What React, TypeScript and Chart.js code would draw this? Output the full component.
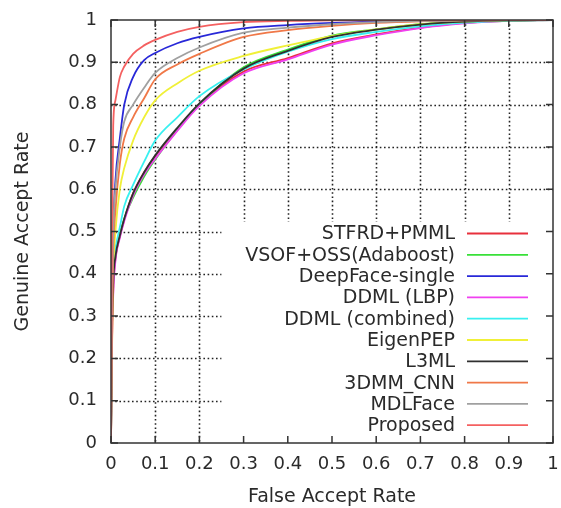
import React, { useEffect, useRef } from 'react';
import { Chart, registerables } from 'chart.js';

Chart.register(...registerables);

// False accept rate sample points shared by all curves
const FAR = [0, 0.002, 0.005, 0.01, 0.02, 0.03, 0.05, 0.075, 0.1, 0.15, 0.2, 0.3, 0.4, 0.5, 0.6, 0.7, 0.8, 0.9, 1];

const STFRD_PMML = [0, 0.22, 0.36, 0.435, 0.488, 0.528, 0.59, 0.64, 0.678, 0.742, 0.8, 0.878, 0.91, 0.945, 0.966, 0.982, 0.993, 0.998, 1];
const VSOF_OSS = [0, 0.24, 0.37, 0.44, 0.49, 0.53, 0.58, 0.63, 0.67, 0.74, 0.8, 0.888, 0.93, 0.963, 0.978, 0.99, 0.996, 0.999, 1];
const DEEPFACE = [0, 0.3, 0.5, 0.62, 0.72, 0.8, 0.865, 0.905, 0.922, 0.945, 0.96, 0.98, 0.988, 0.993, 0.996, 0.998, 0.999, 1, 1];
const DDML_LBP = [0, 0.21, 0.35, 0.43, 0.485, 0.525, 0.585, 0.635, 0.672, 0.738, 0.797, 0.874, 0.907, 0.942, 0.964, 0.981, 0.992, 0.998, 1];
const DDML_COMBINED = [0, 0.3, 0.42, 0.46, 0.51, 0.56, 0.61, 0.665, 0.715, 0.77, 0.82, 0.883, 0.925, 0.955, 0.972, 0.985, 0.994, 0.998, 1];
const EIGENPEP = [0, 0.2, 0.4, 0.5, 0.6, 0.65, 0.715, 0.77, 0.81, 0.85, 0.88, 0.915, 0.94, 0.962, 0.978, 0.99, 0.996, 0.999, 1];
const L3ML = [0, 0.25, 0.38, 0.44, 0.49, 0.53, 0.59, 0.64, 0.68, 0.745, 0.803, 0.885, 0.927, 0.96, 0.977, 0.989, 0.996, 0.999, 1];
const DMM_CNN = [0, 0.25, 0.45, 0.55, 0.66, 0.72, 0.77, 0.815, 0.86, 0.895, 0.92, 0.96, 0.976, 0.986, 0.993, 0.997, 0.999, 1, 1];
const MDLFACE = [0, 0.3, 0.5, 0.6, 0.7, 0.76, 0.8, 0.84, 0.875, 0.91, 0.935, 0.97, 0.982, 0.99, 0.995, 0.998, 0.999, 1, 1];
const PROPOSED = [0, 0.45, 0.75, 0.81, 0.865, 0.89, 0.92, 0.94, 0.953, 0.972, 0.984, 0.995, 0.998, 0.999, 1, 1, 1, 1, 1];

const SERIES_NAMES = ['STFRD+PMML', 'VSOF+OSS(Adaboost)', 'DeepFace-single', 'DDML (LBP)', 'DDML (combined)', 'EigenPEP', 'L3ML', '3DMM_CNN', 'MDLFace', 'Proposed'];
const SERIES_VALUES = [STFRD_PMML, VSOF_OSS, DEEPFACE, DDML_LBP, DDML_COMBINED, EIGENPEP, L3ML, DMM_CNN, MDLFACE, PROPOSED];
const SERIES_COLORS = ['#e8303c', '#38e038', '#2828d8', '#f040f0', '#38f0f0', '#f0f038', '#303030', '#f07848', '#a0a0a0', '#f46060'];

const TICKS = [0, 0.1, 0.2, 0.3, 0.4, 0.5, 0.6, 0.7, 0.8, 0.9, 1];

const X_TITLE = 'False Accept Rate';
const Y_TITLE = 'Genuine Accept Rate';

// key box (in data units): grid is not drawn under it
const KEY_LEFT = 0.25;
const KEY_TOP = 0.523;

const FONT = 'DejaVu Sans';
const INK = '#2a2a2a';

const framePlugin = {
  id: 'gnuplotFrame',
  beforeDatasetsDraw(chart: any) {
    const { ctx, chartArea: a, scales } = chart;
    const x = scales.x, y = scales.y;
    const bl = x.getPixelForValue(KEY_LEFT);
    const bt = y.getPixelForValue(KEY_TOP);
    ctx.save();
    ctx.beginPath();
    ctx.rect(a.left, a.top, a.right - a.left, a.bottom - a.top);
    ctx.rect(bl, bt, a.right - bl, a.bottom - bt);
    ctx.clip('evenodd');
    ctx.strokeStyle = '#222';
    ctx.lineWidth = 1.6;
    ctx.setLineDash([1.6, 2.6]);
    TICKS.forEach((t) => {
      if (t === 0 || t === 1) return;
      const px = Math.round(x.getPixelForValue(t)) + 0.5;
      ctx.beginPath();
      ctx.moveTo(px, a.top);
      ctx.lineTo(px, a.bottom);
      ctx.stroke();
      const py = Math.round(y.getPixelForValue(t)) + 0.5;
      ctx.beginPath();
      ctx.moveTo(a.left, py);
      ctx.lineTo(a.right, py);
      ctx.stroke();
    });
    ctx.restore();
  },
  afterDatasetsDraw(chart: any) {
    const { ctx, chartArea: a, scales } = chart;
    const x = scales.x, y = scales.y;
    ctx.save();
    ctx.strokeStyle = '#333';
    ctx.lineWidth = 1.5;
    ctx.setLineDash([]);
    ctx.strokeRect(a.left, a.top, a.right - a.left, a.bottom - a.top);
    const L = 7;
    TICKS.forEach((t) => {
      const px = x.getPixelForValue(t);
      const py = y.getPixelForValue(t);
      ctx.beginPath();
      ctx.moveTo(px, a.bottom); ctx.lineTo(px, a.bottom - L);
      ctx.moveTo(px, a.top); ctx.lineTo(px, a.top + L);
      ctx.moveTo(a.left, py); ctx.lineTo(a.left + L, py);
      ctx.moveTo(a.right, py); ctx.lineTo(a.right - L, py);
      ctx.stroke();
    });
    // key
    ctx.font = `19px "${FONT}"`;
    ctx.textAlign = 'right';
    ctx.textBaseline = 'middle';
    const textRight = a.right - 98;
    const l0 = a.right - 86, l1 = a.right - 25;
    const row0 = 233.5, dy = 21.3;
    SERIES_NAMES.forEach((name, i) => {
      const ry = row0 + i * dy;
      ctx.fillStyle = INK;
      ctx.fillText(name, textRight, ry + 1);
      ctx.strokeStyle = SERIES_COLORS[i];
      ctx.lineWidth = 1.8;
      ctx.beginPath();
      ctx.moveTo(l0, ry);
      ctx.lineTo(l1, ry);
      ctx.stroke();
    });
    ctx.restore();
  },
};

export default function App() {
  const ref = useRef<HTMLCanvasElement>(null);
  useEffect(() => {
    if (!ref.current) return;
    const datasets = SERIES_NAMES.map((name, i) => ({
      label: name,
      data: FAR.map((f, j) => ({ x: f, y: SERIES_VALUES[i][j] })),
      borderColor: SERIES_COLORS[i],
      backgroundColor: SERIES_COLORS[i],
      borderWidth: 1.8,
      pointRadius: 0,
      cubicInterpolationMode: 'monotone' as const,
      fill: false,
      order: SERIES_NAMES.length - 1 - i,
    }));
    const chart = new Chart(ref.current, {
      type: 'line',
      data: { datasets },
      options: {
        responsive: false,
        animation: false,
        layout: { padding: { left: 0, top: 20, right: 8, bottom: 0 }, autoPadding: false },
        plugins: { legend: { display: false }, tooltip: { enabled: false } },
        scales: {
          x: {
            type: 'linear',
            min: 0,
            max: 1,
            afterFit: (s: any) => { s.height = 65; s.paddingLeft = 0; s.paddingRight = 0; },
            afterBuildTicks: (s: any) => { s.ticks = TICKS.map((v) => ({ value: v })); },
            grid: { display: false, drawTicks: false },
            border: { display: false },
            ticks: {
              padding: 11,
              maxRotation: 0,
              autoSkip: false,
              color: INK,
              font: { family: FONT, size: 18 },
              callback: (v: any) => String(Math.round(Number(v) * 10) / 10),
            },
            title: { display: true, text: X_TITLE, color: INK, font: { family: FONT, size: 19 }, padding: { top: 0, bottom: 0 } },
          },
          y: {
            type: 'linear',
            min: 0,
            max: 1,
            afterFit: (s: any) => { s.width = 111; s.paddingTop = 0; s.paddingBottom = 0; },
            afterBuildTicks: (s: any) => { s.ticks = TICKS.map((v) => ({ value: v })); },
            grid: { display: false, drawTicks: false },
            border: { display: false },
            ticks: {
              padding: 14,
              autoSkip: false,
              color: INK,
              font: { family: FONT, size: 18 },
              callback: (v: any) => String(Math.round(Number(v) * 10) / 10),
            },
            title: { display: true, text: Y_TITLE, color: INK, font: { family: FONT, size: 19 }, padding: { top: 12, bottom: 0 } },
          },
        },
      },
      plugins: [framePlugin],
    });
    return () => chart.destroy();
  }, []);
  return (
    <canvas
      ref={ref}
      width={561}
      height={508}
      style={{ position: 'absolute', left: 0, top: 0, width: 561, height: 508 }}
    />
  );
}
